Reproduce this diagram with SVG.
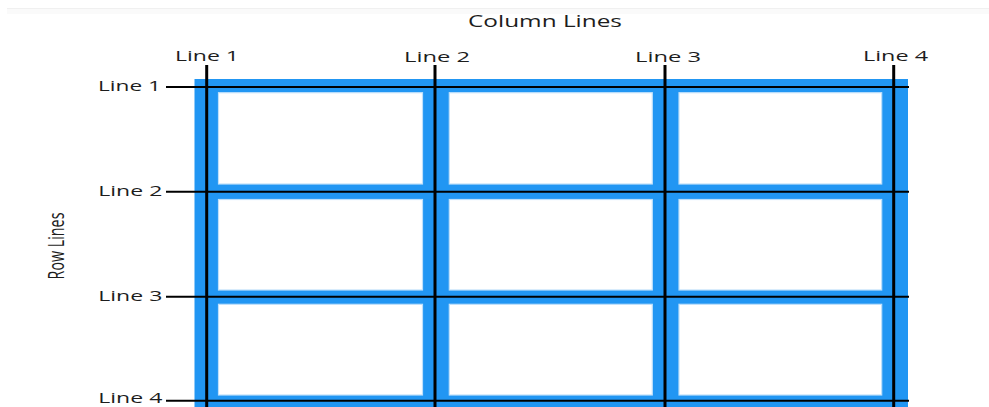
<svg xmlns="http://www.w3.org/2000/svg" width="989" height="407" viewBox="0 0 989 407">
<style>
.lbl{font-family:"Open Sans","Noto Sans","Liberation Sans",sans-serif;font-size:15px;fill:#1d1d1d}
.cell{fill:#ffffff;stroke:#bfe0fb;stroke-width:1.2}
.vline{stroke:#000;stroke-width:3}
.hline{stroke:#000;stroke-width:2}
</style>
<rect width="989" height="407" fill="#ffffff"/>
<g id="topbar">
<rect x="7" y="8" width="982" height="6" fill="#fafafa"/>
<line x1="7" y1="8.5" x2="989" y2="8.5" stroke="#f0f0f0" stroke-width="1"/>
</g>
<g id="grid-container">
<rect x="194.5" y="79" width="713.5" height="340" fill="#2196f3"/>
</g>
<g id="cells">
<g id="cell-1-1"><rect class="cell" x="218.5" y="92.7" width="204" height="91.3"/></g>
<g id="cell-1-2"><rect class="cell" x="449.3" y="92.7" width="203" height="91.3"/></g>
<g id="cell-1-3"><rect class="cell" x="679" y="92.7" width="202.7" height="91.3"/></g>
<g id="cell-2-1"><rect class="cell" x="218.5" y="199.5" width="204" height="90.5"/></g>
<g id="cell-2-2"><rect class="cell" x="449.3" y="199.5" width="203" height="90.5"/></g>
<g id="cell-2-3"><rect class="cell" x="679" y="199.5" width="202.7" height="90.5"/></g>
<g id="cell-3-1"><rect class="cell" x="218.5" y="304.3" width="204" height="90.7"/></g>
<g id="cell-3-2"><rect class="cell" x="449.3" y="304.3" width="203" height="90.7"/></g>
<g id="cell-3-3"><rect class="cell" x="679" y="304.3" width="202.7" height="90.7"/></g>
</g>
<g id="connectors">
<line class="hline" x1="166" y1="87" x2="909" y2="87"/>
<line class="hline" x1="166" y1="191.7" x2="909" y2="191.7"/>
<line class="hline" x1="166" y1="296.7" x2="909" y2="296.7"/>
<line class="hline" x1="166" y1="400.7" x2="909" y2="400.7"/>
<line class="vline" x1="206.7" y1="65" x2="206.7" y2="407"/>
<line class="vline" x1="435" y1="65" x2="435" y2="407"/>
<line class="vline" x1="665" y1="65" x2="665" y2="407"/>
<line class="vline" x1="893.7" y1="65" x2="893.7" y2="407"/>
</g>
<g id="labels">
<text class="lbl" x="468" y="27" textLength="154" lengthAdjust="spacingAndGlyphs" style="font-size:15.5px">Column Lines</text>
<text class="lbl" x="175" y="60.7" textLength="64" lengthAdjust="spacingAndGlyphs">Line 1</text>
<text class="lbl" x="404" y="61.5" textLength="66" lengthAdjust="spacingAndGlyphs">Line 2</text>
<text class="lbl" x="635" y="61.7" textLength="66" lengthAdjust="spacingAndGlyphs">Line 3</text>
<text class="lbl" x="863" y="60.5" textLength="65" lengthAdjust="spacingAndGlyphs">Line 4</text>
<text class="lbl" x="98" y="90.7" textLength="63" lengthAdjust="spacingAndGlyphs">Line 1</text>
<text class="lbl" x="98.3" y="195.7" textLength="64" lengthAdjust="spacingAndGlyphs">Line 2</text>
<text class="lbl" x="98.3" y="300.7" textLength="64" lengthAdjust="spacingAndGlyphs">Line 3</text>
<text class="lbl" x="98.3" y="403" textLength="64" lengthAdjust="spacingAndGlyphs">Line 4</text>
<text class="lbl" transform="translate(64,246) scale(1.5,1) rotate(-90)" text-anchor="middle" style="font-size:14.3px">Row Lines</text>
</g>
</svg>
